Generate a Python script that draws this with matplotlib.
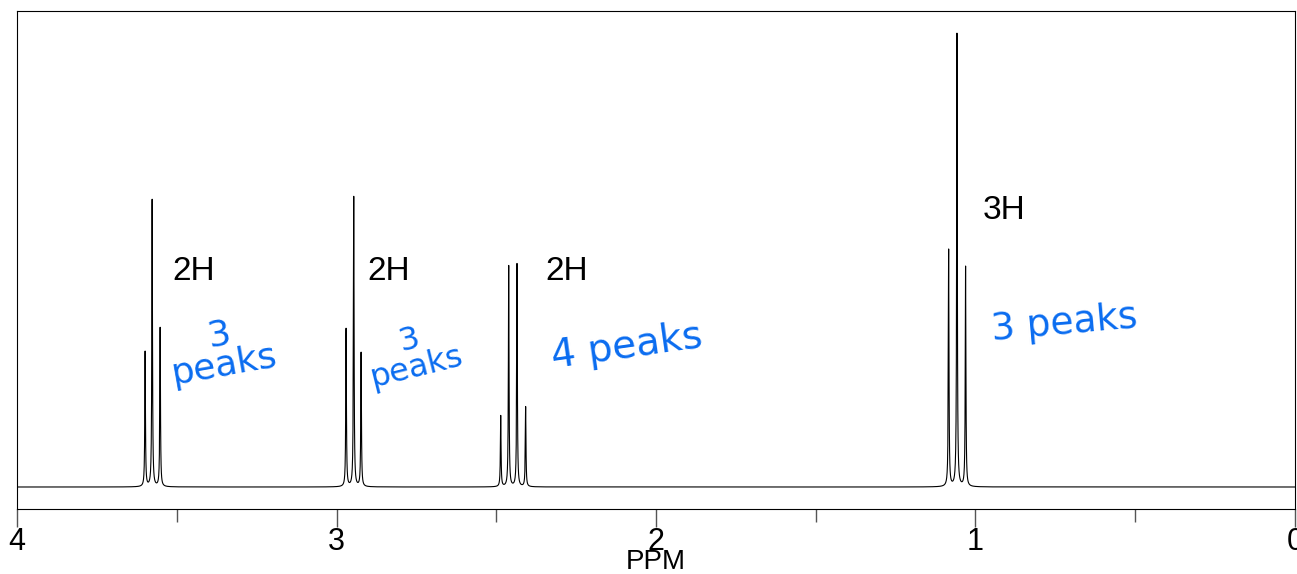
import numpy as np
import matplotlib.pyplot as plt

# peak list (ppm, relative intensity)
ppm_g1 = [3.599, 3.577, 3.552]
int_g1 = [135, 287, 159]
ppm_g2 = [2.970, 2.946, 2.923]
int_g2 = [158, 290, 134]
ppm_g3 = [2.486, 2.461, 2.435, 2.408]
int_g3 = [71, 221, 223, 80]
ppm_g4 = [1.084, 1.058, 1.031]
int_g4 = [237, 453, 220]

integ_labels = ["2H", "2H", "2H", "3H"]
integ_x = [3.446, 2.836, 2.279, 0.911]
integ_y = [215, 215, 215, 277]

note_texts = ["3\npeaks", "3\npeaks", "4 peaks", "3 peaks"]
note_x = [3.36, 2.76, 2.09, 0.72]
note_y = [137, 133, 140, 163]
note_rot = [10, 14, 8, 5]
note_size = [26, 23, 28, 27]

gamma = 0.0012
x = np.linspace(0, 4, 60000)
spec = np.zeros_like(x)
for pp, ii in [(ppm_g1, int_g1), (ppm_g2, int_g2), (ppm_g3, int_g3), (ppm_g4, int_g4)]:
    for p, h in zip(pp, ii):
        spec += h * gamma**2 / ((x - p)**2 + gamma**2)

plt.rcParams['font.family'] = ['Liberation Sans', 'DejaVu Sans']

fig = plt.figure(figsize=(12.97, 5.74), dpi=100)
ax = fig.add_axes([17/1297, 65/574, 1278/1297, 498/574])
ax.plot(x, spec, color='black', lw=0.8)
ax.set_xlim(4, 0)
ax.set_ylim(-22, 476)
ax.set_yticks([])
ax.set_xticks([4, 3, 2, 1, 0])
ax.set_xticks([3.5, 2.5, 1.5, 0.5], minor=True)
ax.tick_params(axis='x', which='major', direction='out', length=13, width=1, color='#555555', labelsize=22, pad=0)
ax.tick_params(axis='x', which='minor', direction='out', length=9, width=1, color='#555555')
ax.set_xlabel("PPM", fontsize=20, labelpad=-6)

for lab, xx, yy in zip(integ_labels, integ_x, integ_y):
    ax.text(xx, yy, lab, fontsize=24, ha='center', va='center')

for t, xx, yy, r, s in zip(note_texts, note_x, note_y, note_rot, note_size):
    ax.text(xx, yy, t, fontsize=s, ha='center', va='center', color='#0a6cf0',
            rotation=r, family='DejaVu Sans', linespacing=0.9)

plt.savefig("out.png")
